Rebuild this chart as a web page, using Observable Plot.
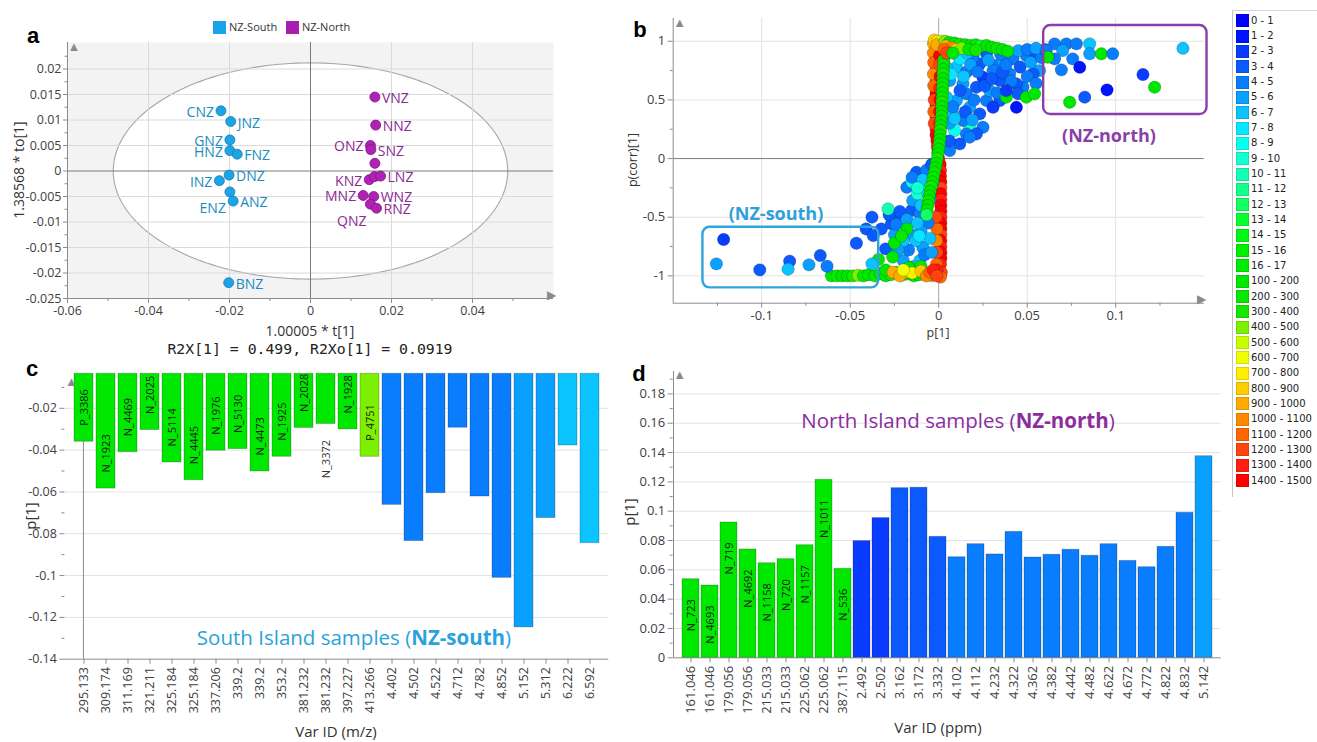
<!DOCTYPE html>
<html><head><meta charset="utf-8">
<script src="https://cdn.jsdelivr.net/npm/d3@7"></script>
<script src="https://cdn.jsdelivr.net/npm/@observablehq/plot@0.6"></script>
<style>
body{margin:0;background:#fff;}
#root{position:relative;width:1317px;height:742px;overflow:hidden;font-family:"Open Sans",sans-serif;background:#fff;}
</style></head><body><div id="root"></div>
<script>
// ---------------- DATA ----------------
// Panel a : OPLS-DA scores
const southNames = ["CNZ","JNZ","GNZ","HNZ","FNZ","DNZ","INZ","ENZ","ANZ","BNZ"];
const southT  = [-0.0221,-0.0197,-0.0199,-0.0199,-0.0181,-0.0201,-0.0225,-0.0199,-0.0191,-0.0202];
const southTo = [0.0118,0.0097,0.0061,0.0040,0.0033,-0.0008,-0.0019,-0.0041,-0.0059,-0.0219];
const northNames = ["VNZ","NNZ","ONZ","SNZ","","KNZ","","LNZ","MNZ","WNZ","QNZ","RNZ"];
const northT  = [0.0159,0.0161,0.0148,0.0149,0.0159,0.0145,0.0158,0.0173,0.0130,0.0156,0.0148,0.0163];
const northTo = [0.0145,0.0090,0.0050,0.0042,0.0015,-0.0017,-0.0011,-0.0010,-0.0048,-0.0050,-0.0065,-0.0073];
const ellipseRadii = [0.0487, 0.0212];

// Panel b : S-plot loadings  [p[1], p(corr)[1], colour class]
const legendLabels = ["0 - 1","1 - 2","2 - 3","3 - 4","4 - 5","5 - 6","6 - 7","7 - 8","8 - 9","9 - 10","10 - 11","11 - 12","12 - 13","13 - 14","14 - 15","15 - 16","16 - 17","100 - 200","200 - 300","300 - 400","400 - 500","500 - 600","600 - 700","700 - 800","800 - 900","900 - 1000","1000 - 1100","1100 - 1200","1200 - 1300","1300 - 1400","1400 - 1500"];
const palette = ["#0000ff","#0014ff","#0a3cff","#0a5aff","#0a7dff","#0aa0ff","#0ac3ff","#0ae6ff","#0affee","#14ffd2","#14ffb4","#14ff8c","#14ff64","#0aff32","#00f814","#00f000","#00ec00","#00e800","#08e800","#14e800","#7cf000","#c8ff00","#f0ff00","#ffee00","#ffcc00","#ffaa00","#ff8800","#ff6600","#ff4410","#ff2010","#ff0000"];
const bandPoints = [
 [-0.0015,0.95,27],[-0.0015,0.90,29],[-0.0015,0.85,30],[-0.0015,0.80,29],[-0.0015,0.75,30],[-0.0015,0.70,28],[-0.0015,0.65,30],[-0.0015,0.60,29],[-0.0015,0.55,30],[-0.0015,0.50,30],[-0.0015,0.45,29],[-0.0015,0.40,30],[-0.0015,0.35,28],[-0.0015,0.30,30],[-0.0015,0.25,29],[-0.0015,0.20,30],[-0.0010,0.15,30],[-0.0008,0.10,29],[-0.0005,0.05,30],[0.0000,0.00,30],
 [-0.0030,0.98,25],[-0.0030,0.90,26],[-0.0028,0.82,27],[-0.0030,0.72,26],[-0.0028,0.62,27],[-0.0025,0.50,28],[-0.0028,0.40,27],[-0.0025,0.30,28],
 [0.0005,0.88,30],[0.0005,0.80,28],[0.0008,0.70,30],[0.0006,0.60,29],[0.0008,0.50,30],[0.0005,0.40,30],[0.0005,0.30,29],[0.0006,0.20,30],
 [0.0008,-0.05,30],[0.0010,-0.10,29],[0.0010,-0.15,30],[0.0012,-0.20,30],[0.0012,-0.25,28],[0.0012,-0.30,30],[0.0012,-0.35,29],[0.0012,-0.40,30],[0.0012,-0.45,30],[0.0012,-0.50,29],[0.0012,-0.55,30],[0.0012,-0.60,30],[0.0012,-0.65,28],[0.0012,-0.70,30],[0.0012,-0.75,29],[0.0012,-0.80,30],[0.0012,-0.85,30],[0.0010,-0.90,29],
 [-0.0010,-0.60,27],[-0.0012,-0.70,26],[-0.0010,-0.80,28],[-0.0012,-0.90,27],[-0.0015,-0.50,28],
 [-0.0020,-0.97,25],[0.0005,-0.99,26],[0.0015,-0.97,28],[-0.0040,-1.00,24],[0.0010,-1.01,27],[-0.0010,-0.95,29],
 [-0.0025,1.01,24],[-0.0005,1.00,23],[0.0015,1.00,22],[0.0015,0.96,26],[-0.0010,0.97,25]
];
const lowerCloud = [
 [-0.0377,-0.50,3],[-0.041,-0.60,3],[-0.037,-0.656,3],[-0.0324,-0.60,3],[-0.0267,-0.557,3],[-0.022,-0.514,3],[-0.0154,-0.443,3],[-0.022,-0.45,3],[-0.030,-0.77,3],[-0.0126,-0.117,3],[-0.018,-0.245,4],[-0.0147,-0.358,5],[-0.0107,-0.47,4],[-0.0164,-0.64,5],[-0.009,-0.756,5],[-0.020,-0.87,5],[-0.0107,-0.87,6],[-0.015,-0.20,8],[-0.012,-0.30,9],[-0.008,-0.25,10],[-0.006,-0.55,4],[-0.010,-0.62,5],[-0.013,-0.70,6],[-0.017,-0.78,4],[-0.005,-0.68,6],[-0.008,-0.82,4],[-0.025,-0.65,5],[-0.020,-0.70,6],[-0.028,-0.48,3],[-0.0286,-0.43,10],[-0.007,-0.10,4],[-0.004,-0.05,3],[-0.010,-0.40,6],[-0.005,-0.35,5],[-0.024,-0.56,4],[-0.018,-0.52,5],[-0.012,-0.55,6],[-0.015,-0.16,4],[-0.009,-0.18,6],[-0.006,-0.30,7],[-0.003,-0.20,5],[-0.011,-0.66,7],[-0.004,-0.80,5],[-0.014,-0.92,6],[-0.023,-0.78,5],[-0.012,-0.25,9],
 [-0.025,-0.72,17],[-0.018,-0.60,17],[-0.026,-0.84,17],[-0.034,-0.86,17],[-0.016,-0.93,17],[-0.021,-0.66,18]
];
const upperCloud = [
 [0.0109,0.878,6],[0.010,0.778,6],[0.0062,0.665,5],[0.0156,0.736,4],[0.0232,0.807,3],[0.0326,0.793,4],[0.0363,0.835,5],[0.042,0.85,4],[0.0495,0.878,4],[0.0552,0.893,3],[0.057,0.75,5],[0.0533,0.722,3],[0.0476,0.608,4],[0.0439,0.437,1],[0.0345,0.494,3],[0.027,0.494,4],[0.0288,0.58,5],[0.0213,0.608,3],[0.0156,0.552,4],[0.010,0.494,5],[0.0081,0.381,6],[0.0175,0.267,9],[0.0156,0.21,4],[0.009,0.239,8],[0.0119,0.125,3],[0.0062,0.068,4],[0.0232,0.381,3],[0.0307,0.437,2],[0.025,0.693,2],[0.0345,0.665,3],[0.0401,0.722,4],[0.0439,0.637,3],[0.0307,0.75,4],[0.0194,0.864,4],[0.027,0.893,3],[0.0137,0.637,5],[0.0044,0.523,6],[0.0044,0.778,6],[0.0109,0.949,6],[0.0044,0.893,6],[0.0175,0.437,5],[0.025,0.267,4],[0.0213,0.21,3],[0.0447,0.553,3],[0.0175,0.182,4],[0.0137,0.324,4],
 [0.006,0.30,5],[0.008,0.44,4],[0.012,0.58,3],[0.014,0.70,6],[0.018,0.80,5],[0.020,0.50,4],[0.022,0.74,4],[0.026,0.62,3],[0.028,0.84,5],[0.030,0.68,3],[0.033,0.56,4],[0.036,0.73,3],[0.038,0.80,4],[0.041,0.66,4],[0.046,0.78,3],[0.050,0.70,4],[0.052,0.82,5],[0.055,0.64,4],[0.058,0.86,4],[0.060,0.93,4],[0.006,0.15,3],[0.009,0.34,6],[0.015,0.40,3],[0.019,0.33,5],[0.012,0.85,7],[0.016,0.90,6],[0.007,0.72,7],[0.035,0.89,4],[0.045,0.92,5],[0.050,0.93,4],[0.055,0.94,5],
 [0.0382,0.523,17],[0.0495,0.523,17],[0.0542,0.552,17],[0.0382,0.58,2]
];
const northOutliers = [
 [0.0655,0.978,4],[0.0721,0.978,4],[0.0778,0.978,4],[0.0853,0.978,6],[0.070,0.92,5],[0.0655,0.85,4],[0.0757,0.85,4],[0.0853,0.893,5],[0.0919,0.893,17],[0.0983,0.893,4],[0.0693,0.756,4],[0.0797,0.778,1],[0.138,0.94,6],[0.1154,0.716,2],[0.122,0.608,17],[0.0951,0.585,1],[0.0825,0.523,3],[0.074,0.48,17],[0.0608,0.92,4],[0.0616,0.864,17]
];
const bottomRow = [
 [-0.0606,-1.0,17],[-0.0575,-1.0,18],[-0.0545,-1.0,17],[-0.0515,-1.0,17],[-0.0485,-1.0,19],[-0.0455,-0.995,20],[-0.0425,-1.0,17],[-0.0395,-0.99,17],[-0.036,-1.0,18],[-0.033,-0.98,17],[-0.030,-1.0,17],[-0.027,-0.99,19],[-0.024,-0.97,17],[-0.021,-0.995,17],[-0.018,-0.985,18],[-0.014,-1.0,17],[-0.011,-0.99,17],[-0.007,-0.985,18],[-0.004,-0.99,17],
 [-0.030,-0.95,17],[-0.017,-0.93,17],[-0.010,-0.92,18],
 [-0.0258,-0.969,25],[-0.0192,-0.969,24],[-0.022,-1.0,25],[-0.015,-0.975,23],[-0.010,-0.96,24],[-0.007,-1.0,26],[-0.005,-0.97,27],[-0.003,-0.95,29],[-0.001,-1.0,28],[-0.020,-0.95,22]
];
const southOutliers = [
 [-0.1215,-0.69,2],[-0.1256,-0.898,5],[-0.1011,-0.949,3],[-0.0842,-0.875,3],[-0.0851,-0.943,6],[-0.0733,-0.906,5],[-0.0669,-0.827,3],[-0.0631,-0.918,4],[-0.0465,-0.722,3],[-0.0377,-0.898,6]
];
const greenStripe = [
 [0.0028,0.84,17],[0.0027,0.80,18],[0.0026,0.76,17],[0.0025,0.72,19],[0.0024,0.68,17],[0.0023,0.64,17],[0.0022,0.60,18],[0.0021,0.56,17],[0.0020,0.52,17],[0.0019,0.48,19],[0.0018,0.44,17],[0.0017,0.40,17],[0.0016,0.36,18],[0.0014,0.32,17],[0.0012,0.28,17],[0.0010,0.24,19],[0.0008,0.20,17],[0.0006,0.16,17],[0.0003,0.12,18],[0.0000,0.08,17],[-0.0004,0.04,17],[-0.0008,0.00,19],[-0.0013,-0.04,17],[-0.0018,-0.08,17],[-0.0024,-0.12,18],[-0.0030,-0.16,17],[-0.0036,-0.20,17],[-0.0042,-0.24,19],[-0.0048,-0.28,17],[-0.0053,-0.32,17],[-0.0058,-0.36,18],[-0.0062,-0.40,17],[-0.0066,-0.44,17],[-0.0068,-0.48,12]
];
const topCluster = [
 [0.0035,1.0,20],[0.006,0.99,17],[0.009,0.985,18],[0.012,0.975,19],[0.015,0.97,17],[0.018,0.965,17],[0.021,0.97,18],[0.024,0.96,13],[0.027,0.965,17],[0.030,0.95,17],[0.033,0.94,18],[0.036,0.93,17],[0.039,0.915,17],[0.004,0.96,25],[0.007,0.945,26],[0.010,0.93,24],[0.013,0.94,20],[0.017,0.93,17],[0.021,0.925,19],[0.003,0.93,27],[0.0045,0.90,28],[0.008,0.90,17]
];
const regionBoxes = [
 {name:"NZ-south", x1:-0.1332, x2:-0.0339, y1:-1.102, y2:-0.586},
 {name:"NZ-north", x1:0.0593, x2:0.1516, y1:0.375, y2:1.134}
];

// Panel c : South island loadings
const cTicks = ["295.133","309.174","311.169","321.211","325.184","325.184","337.206","339.2","339.2","353.2","381.232","381.232","397.227","413.266","4.402","4.502","4.522","4.712","4.782","4.852","5.152","5.312","6.222","6.592"];
const cValues = [-0.0360,-0.0584,-0.0410,-0.0304,-0.0459,-0.0544,-0.0403,-0.0395,-0.0502,-0.0432,-0.0294,-0.0275,-0.0301,-0.0432,-0.0662,-0.0835,-0.0606,-0.0293,-0.0622,-0.1011,-0.1248,-0.0725,-0.0378,-0.0845];
const cIds = ["P_3386","N_1923","N_4469","N_2025","N_5114","N_4445","N_1976","N_5130","N_4473","N_1925","N_2028","N_3372","N_1928","P_4751"];
const cClass = [17,17,17,17,17,17,17,17,17,17,17,17,17,20,4,4,4,4,4,4,5,5,6,6];

// Panel d : North island loadings
const dTicks = ["161.046","161.046","179.056","179.056","215.033","215.033","225.062","225.062","387.115","2.492","2.502","3.162","3.172","3.332","4.102","4.112","4.232","4.322","4.362","4.382","4.442","4.482","4.622","4.672","4.772","4.822","4.832","5.142"];
const dValues = [0.0536,0.0493,0.0923,0.0739,0.0645,0.0673,0.0768,0.1214,0.0607,0.0796,0.0953,0.1157,0.1160,0.0825,0.0686,0.0775,0.0705,0.0859,0.0684,0.0703,0.0737,0.0696,0.0775,0.0661,0.0618,0.0757,0.0989,0.1375];
const dIds = ["N_723","N_4693","N_719","N_4692","N_1158","N_720","N_1157","N_1011","N_536"];
const dClass = [17,17,17,17,17,17,17,17,17,2,2,3,3,3,4,4,4,4,4,4,4,4,4,4,4,4,4,5];

// ---------------- HELPERS ----------------
const root = document.getElementById("root");
const fmt = d => String(+(+d).toFixed(4));
function put(node, left, top, w, h){
  const div = document.createElement("div");
  div.style.cssText = `position:absolute;left:${left}px;top:${top}px;width:${w}px;height:${h}px;`;
  div.appendChild(node); root.appendChild(div);
}
function label(html, x, y, css, rot){
  const el = document.createElement("div");
  el.innerHTML = html;
  el.style.cssText = `position:absolute;left:${x}px;top:${y}px;white-space:nowrap;line-height:1;transform:translate(-50%,-50%)${rot ? " rotate(-90deg)" : ""};${css}`;
  root.appendChild(el);
}
const baseStyle = (fs) => ({fontFamily:"Open Sans", fontSize: fs, color:"#404040", background:"transparent", overflow:"visible"});
const AX = "#8c8c8c", GRID = "#e2e2e2";

// ---------------- PANEL A ----------------
const samples = southNames.map((n,i)=>({name:n, t:southT[i], to:southTo[i], g:"S"}))
  .concat(northNames.map((n,i)=>({name:n, t:northT[i], to:northTo[i], g:"N"})));
const fillA = {S:"#1ea3e4", N:"#b022b4"}, strokeA = {S:"#1280b8", N:"#7f1585"}, textA = {S:"#1b8cc0", N:"#8c2a94"};
const leftSet = new Set(["CNZ","GNZ","HNZ","INZ","ONZ","KNZ","MNZ"]);
const belowSet = new Set(["ENZ","QNZ"]);
const ellipse = d3.range(0, 361, 2).map(a => ({x: ellipseRadii[0]*Math.cos(a*Math.PI/180), y: ellipseRadii[1]*Math.sin(a*Math.PI/180)}));
const aX = [-0.06,-0.04,-0.02,0,0.02,0.04], aXm = [-0.05,-0.03,-0.01,0.01,0.03,0.05];
const aY = [-0.025,-0.02,-0.015,-0.01,-0.005,0,0.005,0.01,0.015,0.02];
const aYm = [-0.0225,-0.0175,-0.0125,-0.0075,-0.0025,0.0025,0.0075,0.0125,0.0175,0.0225];
const plotA = Plot.plot({
  width:560, height:360, marginLeft:67, marginRight:7, marginTop:42, marginBottom:62,
  x:{domain:[-0.06,0.06]}, y:{domain:[-0.025,0.0252]},
  style: baseStyle("12.5px"),
  marks:[
    Plot.frame({fill:"#f3f3f3", stroke:null}),
    Plot.line(ellipse, {x:"x", y:"y", fill:"white", stroke:"#a6a6a6", strokeWidth:1.1}),
    Plot.gridX([-0.04,-0.02,0.02,0.04], {stroke:"#dadada", strokeOpacity:1}),
    Plot.gridY(aY.filter(v=>v!==0 && v!==-0.025), {stroke:"#dadada", strokeOpacity:1}),
    Plot.ruleX([0], {stroke:"#7a7a7a"}), Plot.ruleY([0], {stroke:"#7a7a7a"}),
    Plot.ruleX([-0.06], {stroke:AX}), Plot.ruleY([-0.025], {stroke:AX}),
    Plot.axisX(aX, {tickFormat:fmt, tickSize:5, tickPadding:3, stroke:AX, fill:"#404040", label:null}),
    Plot.axisX(aXm, {tickFormat:()=>"", tickSize:3, stroke:AX, label:null}),
    Plot.axisY(aY, {tickFormat:fmt, tickSize:4, tickPadding:2, stroke:AX, fill:"#404040", label:null}),
    Plot.axisY(aYm, {tickFormat:()=>"", tickSize:2.5, stroke:AX, label:null}),
    Plot.text(["▲"], {frameAnchor:"top-left", text:d=>d, fill:"#8a8a8a", fontSize:13, lineAnchor:"top", dy:-1}),
    Plot.text(["▶"], {frameAnchor:"bottom-right", text:d=>d, fill:"#8a8a8a", fontSize:12, textAnchor:"end", dx:2}),
    Plot.dot(samples, {x:"t", y:"to", r:5, fill:d=>fillA[d.g], stroke:d=>strokeA[d.g], strokeWidth:0.8}),
    Plot.text(samples.filter(d=>d.name && !leftSet.has(d.name) && !belowSet.has(d.name)), {x:"t", y:"to", text:"name", textAnchor:"start", dx:7, dy:1.5, fill:d=>textA[d.g], fontSize:14}),
    Plot.text(samples.filter(d=>leftSet.has(d.name)), {x:"t", y:"to", text:"name", textAnchor:"end", dx:-7, dy:1.5, fill:d=>textA[d.g], fontSize:14}),
    Plot.text(samples.filter(d=>belowSet.has(d.name)), {x:"t", y:"to", text:"name", textAnchor:"end", dx:-4, dy:17, fill:d=>textA[d.g], fontSize:14})
  ]
});
put(plotA, 0, 0, 560, 360);

// ---------------- PANEL B ----------------
const toObj = arr => arr.map(([x,y,c]) => ({x, y, c: palette[c]}));
const bPoints = [bandPoints, lowerCloud, upperCloud, northOutliers, bottomRow, southOutliers, greenStripe, topCluster].flatMap(toObj);
const plotB = Plot.plot({
  width:640, height:340, marginLeft:92.7, marginRight:16.3, marginTop:18, marginBottom:37.3,
  x:{domain:[-0.15,0.15]}, y:{domain:[-1.233,1.194]},
  style: baseStyle("13px"),
  marks:[
    Plot.gridX([-0.1,-0.05,0.05,0.1], {stroke:GRID, strokeOpacity:1}),
    Plot.gridY([-1,-0.5,0.5,1], {stroke:GRID, strokeOpacity:1}),
    Plot.ruleX([0], {stroke:"#a8a8a8"}),
    Plot.ruleY([0], {stroke:"#7c7c7c"}),
    Plot.ruleX([-0.15], {stroke:AX}), Plot.ruleY([-1.233], {stroke:AX}),
    Plot.axisX([-0.1,-0.05,0,0.05,0.1], {tickFormat:fmt, tickSize:5, tickPadding:3, stroke:AX, fill:"#404040", label:null}),
    Plot.axisX([-0.125,-0.075,-0.025,0.025,0.075,0.125], {tickFormat:()=>"", tickSize:3, stroke:AX, label:null}),
    Plot.axisY([-1,-0.5,0,0.5,1], {tickFormat:fmt, tickSize:5, tickPadding:3, stroke:AX, fill:"#404040", label:null}),
    Plot.axisY([-0.75,-0.25,0.25,0.75], {tickFormat:()=>"", tickSize:3, stroke:AX, label:null}),
    Plot.text(["▲"], {frameAnchor:"top-left", text:d=>d, fill:"#8a8a8a", fontSize:13, lineAnchor:"top", dy:-1}),
    Plot.text(["▶"], {frameAnchor:"bottom-right", text:d=>d, fill:"#8a8a8a", fontSize:12, textAnchor:"end", dx:2}),
    Plot.dot(bPoints, {x:"x", y:"y", r:6.2, fill:"c", stroke:"#000", strokeOpacity:0.28, strokeWidth:0.7}),
    Plot.rect(regionBoxes, {x1:"x1", x2:"x2", y1:"y1", y2:"y2", fill:"none", stroke:d=>d.name==="NZ-south" ? "#2ea3dc" : "#8a3fa8", strokeWidth:2.4, rx:7})
  ]
});
put(plotB, 580, 0, 640, 340);

// ---------------- PANEL C ----------------
const cData = cValues.map((v,i)=>({i, v, id: cIds[i] || "", c: palette[cClass[i]]}));
const cTop = -0.0035;
const plotC = Plot.plot({
  width:640, height:382, marginLeft:64.4, marginRight:31.7, marginTop:13.3, marginBottom:83.3,
  x:{type:"band", domain:d3.range(cValues.length), paddingInner:0.12, paddingOuter:0.06},
  y:{domain:[-0.14, cTop]},
  style: baseStyle("12.5px"),
  marks:[
    Plot.gridY([-0.12,-0.1,-0.08,-0.06,-0.04,-0.02], {stroke:GRID, strokeOpacity:1}),
    Plot.ruleY([-0.14], {stroke:AX}), Plot.ruleX([0], {x:()=>0, stroke:AX, dx:-0.6}),
    Plot.barY(cData, {x:"i", y1:"v", y2:()=>cTop, fill:"c", stroke:"#000", strokeOpacity:0.22, strokeWidth:1}),
    Plot.text(["▲"], {frameAnchor:"top-left", text:d=>d, fill:"#8a8a8a", fontSize:13, lineAnchor:"top", dy:3}),
    Plot.axisX(d3.range(cTicks.length), {tickFormat:i=>cTicks[i], tickRotate:-90, tickSize:5, tickPadding:3, stroke:AX, fill:"#404040", label:null}),
    Plot.axisY([-0.14,-0.12,-0.1,-0.08,-0.06,-0.04,-0.02], {tickFormat:fmt, tickSize:5, tickPadding:3, stroke:AX, fill:"#404040", label:null}),
    Plot.axisY([-0.13,-0.11,-0.09,-0.07,-0.05,-0.03,-0.01], {tickFormat:()=>"", tickSize:3, stroke:AX, label:null}),
    Plot.text(cData.filter(d=>d.id && -d.v >= 0.028), {x:"i", y:"v", text:"id", rotate:-90, textAnchor:"start", dy:-16, fontSize:11, fill:"#1a1a1a"}),
    Plot.text(cData.filter(d=>d.id && -d.v < 0.028), {x:"i", y:"v", text:"id", rotate:-90, textAnchor:"end", dy:16, fontSize:11, fill:"#333"})
  ]
});
put(plotC, 0, 360, 640, 382);

// ---------------- PANEL D ----------------
const dData = dValues.map((v,i)=>({i, v, id: dIds[i] || "", c: palette[dClass[i]]}));
const plotD = Plot.plot({
  width:677, height:382, marginLeft:32.7, marginRight:96.2, marginTop:11.4, marginBottom:84.7,
  x:{type:"band", domain:d3.range(dValues.length), paddingInner:0.12, paddingOuter:0.06},
  y:{domain:[0, 0.195]},
  style: baseStyle("13px"),
  marks:[
    Plot.gridY([0.02,0.04,0.06,0.08,0.1,0.12,0.14,0.16,0.18], {stroke:GRID, strokeOpacity:1}),
    Plot.ruleY([0], {stroke:AX}),
    Plot.barY(dData, {x:"i", y:"v", fill:"c", stroke:"#000", strokeOpacity:0.22, strokeWidth:1}),
    Plot.text(["▲"], {frameAnchor:"top-left", text:d=>d, fill:"#8a8a8a", fontSize:13, lineAnchor:"top", dy:-2}),
    Plot.axisX(d3.range(dTicks.length), {tickFormat:i=>dTicks[i], tickRotate:-90, tickSize:5, tickPadding:3, stroke:AX, fill:"#404040", label:null}),
    Plot.axisY([0,0.02,0.04,0.06,0.08,0.1,0.12,0.14,0.16,0.18], {tickFormat:fmt, tickSize:5, tickPadding:3, stroke:AX, fill:"#404040", label:null}),
    Plot.axisY([0.01,0.03,0.05,0.07,0.09,0.11,0.13,0.15,0.17,0.19], {tickFormat:()=>"", tickSize:3, stroke:AX, label:null}),
    Plot.text(dData.filter(d=>d.id), {x:"i", y:"v", text:"id", rotate:-90, textAnchor:"end", dy:20, fontSize:11, fill:"#1a1a1a"})
  ]
});
put(plotD, 640, 360, 677, 382);
const axisLineD = document.createElement("div");
axisLineD.style.cssText = "position:absolute;left:672.7px;top:371.4px;width:1px;height:286px;background:#8c8c8c;";
root.appendChild(axisLineD);

// ---------------- TEXT, LEGENDS ----------------
const L = 'font-family:"Liberation Sans",Arial,sans-serif;font-weight:bold;font-size:22px;color:#000;';
label("a", 33, 36, L); label("b", 640, 30, L); label("c", 32, 369, L); label("d", 639, 374, L);

// legend a
[["NZ-South", "#1aa3e8", 213], ["NZ-North", "#a81fb0", 286]].forEach(([t, c, x]) => {
  const sw = document.createElement("div");
  sw.style.cssText = `position:absolute;left:${x}px;top:21px;width:13px;height:13px;background:${c};`;
  root.appendChild(sw);
  const tx = document.createElement("div");
  tx.textContent = t;
  tx.style.cssText = `position:absolute;left:${x+16}px;top:20px;font-size:11px;line-height:14px;color:#333;font-family:"Open Sans",sans-serif;`;
  root.appendChild(tx);
});

label("1.38568 * to[1]", 19, 170, "font-size:14px;color:#333;", true);
label("1.00005 * t[1]", 310, 331, "font-size:14px;color:#333;");
label("R2X[1] = 0.499, R2Xo[1] = 0.0919", 310, 349, 'font-family:"DejaVu Sans Mono",monospace;font-size:14.8px;color:#222;');

label("p(corr)[1]", 633, 160, "font-size:12.5px;color:#333;", true);
label("p[1]", 938, 333, "font-size:12.5px;color:#333;");
label("(NZ-south)", 776, 213, "font-size:18px;font-weight:bold;color:#2ea0da;");
label("(NZ-north)", 1109, 135, "font-size:18px;font-weight:bold;color:#8a3fa8;");

label("p[1]", 30, 516, "font-size:15px;color:#333;", true);
label("Var ID (m/z)", 336, 731, "font-size:15px;color:#333;");
label('South Island samples (<b>NZ-south</b>)', 354, 637, "font-size:20.5px;color:#2aa2dc;");

label("p[1]", 629, 512, "font-size:15px;color:#333;", true);
label("Var ID (ppm)", 938, 727, "font-size:15px;color:#333;");
label('North Island samples (<b>NZ-north</b>)', 958, 420, "font-size:20.5px;color:#8a2d9e;");

// legend b (colour classes)
const lg = document.createElement("div");
lg.style.cssText = "position:absolute;left:1232px;top:10px;width:90px;height:486px;border-left:1.5px solid #c4c4c4;border-top:1.5px solid #d4d4d4;";
root.appendChild(lg);
legendLabels.forEach((t, i) => {
  const cy = 20.7 + i*15.33;
  const sw = document.createElement("div");
  sw.style.cssText = `position:absolute;left:1236px;top:${cy-6.5}px;width:13px;height:13px;background:${palette[i]};box-sizing:border-box;border:1px solid rgba(0,0,0,0.12);`;
  root.appendChild(sw);
  const tx = document.createElement("div");
  tx.textContent = t;
  tx.style.cssText = `position:absolute;left:1251px;top:${cy-7}px;line-height:14px;font-family:"DejaVu Sans",sans-serif;font-size:10px;color:#222;white-space:nowrap;`;
  root.appendChild(tx);
});
</script></body></html>
